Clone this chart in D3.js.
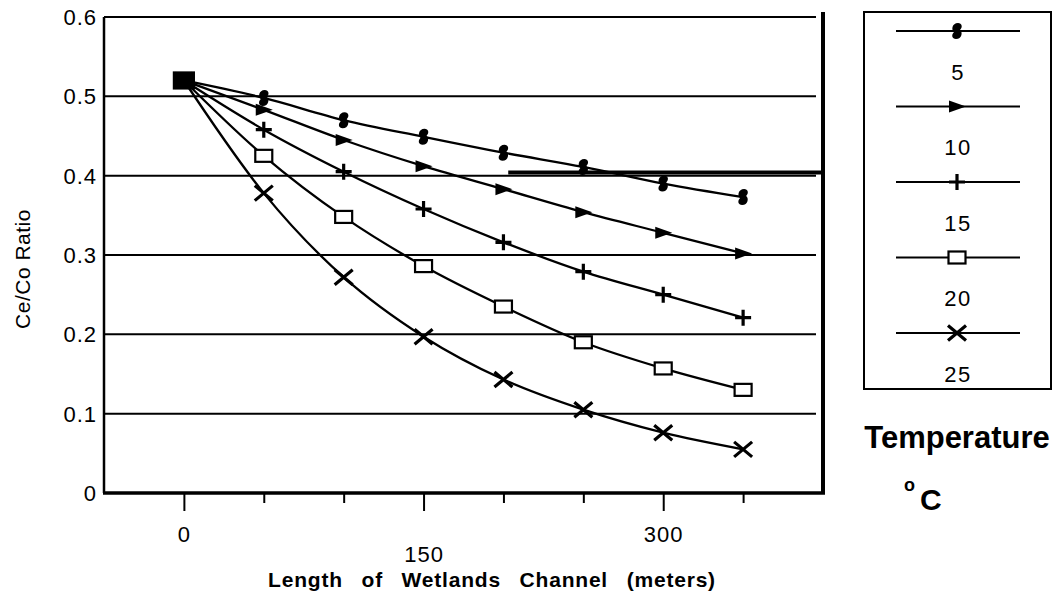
<!DOCTYPE html>
<html>
<head>
<meta charset="utf-8">
<script src="https://cdn.jsdelivr.net/npm/d3@7/dist/d3.min.js"></script>
<style>
  body { margin: 0; background: #fff; }
  svg { display: block; }
</style>
</head>
<body>
<div id="root"></div>
<script>
// channel length (m) and Ce/Co ratio for each temperature
const lengths = [0, 50, 100, 150, 200, 250, 300, 350]
const temps = ["5", "10", "15", "20", "25"]
const t5  = [0.52, 0.498, 0.470, 0.449, 0.429, 0.411, 0.390, 0.373]
const t10 = [0.52, 0.483, 0.445, 0.412, 0.383, 0.354, 0.328, 0.302]
const t15 = [0.52, 0.458, 0.405, 0.358, 0.316, 0.279, 0.250, 0.221]
const t20 = [0.52, 0.425, 0.348, 0.286, 0.235, 0.190, 0.157, 0.130]
const t25 = [0.52, 0.378, 0.272, 0.197, 0.143, 0.105, 0.076, 0.055]
const yTicks = [0, 0.1, 0.2, 0.3, 0.4, 0.5, 0.6]
const xTicks = [0, 50, 100, 150, 200, 250, 300, 350]
const xLabels = [0, 150, 300]
// stray heavy rule in the scan, in data units
const heavyRule = {x0: 203, x1: 400, y: 0.404}

const seriesValues = [t5, t10, t15, t20, t25]
const markerKinds = ["blob", "tri", "plus", "square", "cross"]

const W = 1060, H = 606
const svg = d3.select("#root").append("svg").attr("width", W).attr("height", H)

const x = d3.scaleLinear().domain([-50, 400]).range([104, 823])
const y = d3.scaleLinear().domain([0, 0.6]).range([493, 17])

const numFont = "'Liberation Sans', Arial, sans-serif"

// horizontal grid lines
svg.append("g").selectAll("line").data(yTicks.filter(d => d > 0)).join("line")
    .attr("x1", x(-50)).attr("x2", x(400) - 7)
    .attr("y1", d => y(d)).attr("y2", d => y(d))
    .attr("stroke", "#000").attr("stroke-width", 2)

svg.append("line")
    .attr("x1", x(heavyRule.x0)).attr("x2", x(heavyRule.x1))
    .attr("y1", y(heavyRule.y)).attr("y2", y(heavyRule.y))
    .attr("stroke", "#000").attr("stroke-width", 4)

// left / right frame lines
svg.append("line")
    .attr("x1", x(-50)).attr("x2", x(-50))
    .attr("y1", y(0.6)).attr("y2", y(0))
    .attr("stroke", "#000").attr("stroke-width", 2.5)
svg.append("line")
    .attr("x1", x(400)).attr("x2", x(400))
    .attr("y1", y(0.6) - 5).attr("y2", y(0) + 1)
    .attr("stroke", "#000").attr("stroke-width", 4)

svg.append("g").selectAll("text").data(yTicks).join("text")
    .attr("x", x(-50) - 7).attr("y", d => y(d))
    .attr("dy", "0.36em")
    .attr("text-anchor", "end")
    .attr("font-family", numFont).attr("font-size", 22)
    .attr("letter-spacing", 1)
    .text(d => d === 0 ? "0" : d3.format(".1f")(d))

svg.append("text")
    .attr("transform", `translate(30,${(y(0) + y(0.6)) / 2 + 14}) rotate(-90)`)
    .attr("text-anchor", "middle")
    .attr("font-family", numFont).attr("font-size", 21)
    .attr("letter-spacing", 0.5)
    .text("Ce/Co Ratio")

// bottom axis
const xAxis = d3.axisBottom(x).tickValues(xTicks)
    .tickSize(10).tickPadding(30)
    .tickFormat(d => xLabels.includes(d) ? d : "")
const gx = svg.append("g").attr("transform", `translate(0,${y(0)})`).call(xAxis)
gx.select(".domain").remove()
gx.selectAll(".tick line")
    .attr("stroke-width", 2)
    .attr("y2", d => xLabels.includes(d) ? 18 : 10)
gx.selectAll(".tick text")
    .attr("font-family", numFont).attr("font-size", 22)
    .attr("letter-spacing", 1)
    .attr("fill", "#000")
    .attr("y", d => d === 150 ? 53 : 33)
svg.append("line")
    .attr("x1", x(-50) - 1).attr("x2", x(400) + 2)
    .attr("y1", y(0)).attr("y2", y(0))
    .attr("stroke", "#000").attr("stroke-width", 3.5)

svg.append("text")
    .attr("x", 492).attr("y", 587)
    .attr("text-anchor", "middle")
    .attr("font-family", numFont).attr("font-weight", "bold").attr("font-size", 21)
    .attr("letter-spacing", 0.8)
    .attr("word-spacing", 12)
    .text("Length of Wetlands Channel (meters)")

// markers
function drawMarker(g, kind, first) {
    if (kind === "blob") {
        g.append("path")
            .attr("d", "M1,-8 C5,-8 6,-4 3,-1 C6,1 5,8 -1,8 C-5,8 -6,4 -3,1 C-6,-1 -5,-8 1,-8Z")
            .attr("fill", "#000")
    } else if (kind === "tri") {
        g.append("path").attr("d", "M-8,-6 L9,0 L-8,6Z").attr("fill", "#000")
    } else if (kind === "plus") {
        g.append("path").attr("d", "M-8,0 H8 M0,-8 V8").attr("stroke", "#000").attr("stroke-width", 3.2)
    } else if (kind === "square") {
        const w = first ? 20 : 17, h = first ? 16 : 12
        g.append("rect").attr("x", -w / 2).attr("y", -h / 2).attr("width", w).attr("height", h)
            .attr("fill", first ? "#000" : "#fff").attr("stroke", "#000").attr("stroke-width", 2.2)
    } else if (kind === "cross") {
        g.append("path").attr("d", "M-9,-7.5 L9,7.5 M-9,7.5 L9,-7.5").attr("stroke", "#000").attr("stroke-width", 3.2)
    }
}

const line = d3.line().x((d, i) => x(lengths[i])).y(d => y(d)).curve(d3.curveMonotoneX)

seriesValues.forEach(vals => {
    svg.append("path").datum(vals)
        .attr("d", line)
        .attr("fill", "none").attr("stroke", "#000").attr("stroke-width", 2.3)
})
seriesValues.forEach((vals, si) => {
    vals.forEach((v, i) => {
        const g = svg.append("g").attr("transform", `translate(${x(lengths[i])},${y(v)})`)
        drawMarker(g, markerKinds[si], i === 0)
    })
})

// legend
const legend = svg.append("g")
legend.append("rect")
    .attr("x", 864).attr("y", 12).attr("width", 187).attr("height", 377)
    .attr("fill", "none").attr("stroke", "#000").attr("stroke-width", 2)
temps.forEach((t, i) => {
    const ly = 31 + i * 75.5
    legend.append("line").attr("x1", 896).attr("x2", 1020).attr("y1", ly).attr("y2", ly)
        .attr("stroke", "#000").attr("stroke-width", 2)
    const g = legend.append("g").attr("transform", `translate(957,${ly})`)
    drawMarker(g, markerKinds[i], false)
    legend.append("text")
        .attr("x", 958).attr("y", ly + 41).attr("dy", "0.36em")
        .attr("text-anchor", "middle")
        .attr("font-family", numFont).attr("font-size", 22)
        .attr("letter-spacing", 1.5)
        .text(t)
})

svg.append("text")
    .attr("x", 957).attr("y", 448)
    .attr("text-anchor", "middle")
    .attr("font-family", numFont).attr("font-weight", "bold").attr("font-size", 31)
    .text("Temperature")
svg.append("text")
    .attr("x", 904).attr("y", 491)
    .attr("font-family", numFont).attr("font-weight", "bold").attr("font-size", 18)
    .text("o")
svg.append("text")
    .attr("x", 920).attr("y", 510)
    .attr("font-family", numFont).attr("font-weight", "bold").attr("font-size", 30)
    .text("C")
</script>
</body>
</html>
